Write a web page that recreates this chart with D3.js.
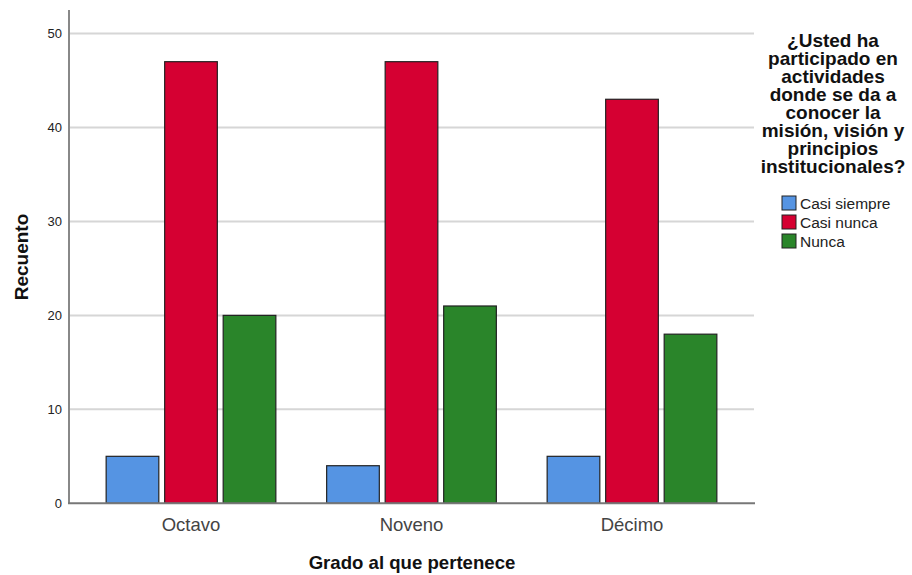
<!DOCTYPE html>
<html><head><meta charset="utf-8">
<script src="https://cdn.jsdelivr.net/npm/d3@7"></script>
<style>body{margin:0;background:#fff}svg{display:block}</style>
</head><body>
<svg id="c" width="912" height="575"></svg>
<script>
const categories = ["Octavo", "Noveno", "Décimo"];
const seriesNames = ["Casi siempre", "Casi nunca", "Nunca"];
const casiSiempre = [5, 4, 5];
const casiNunca = [47, 47, 43];
const nunca = [20, 21, 18];
const yTicks = [0, 10, 20, 30, 40, 50];
const colors = ["#5594E3", "#D50032", "#2A852A"];
const legendTitle = ["¿Usted ha", "participado en", "actividades", "donde se da a", "conocer la", "misión, visión y", "principios", "institucionales?"];

const series = [casiSiempre, casiNunca, nunca];
const svg = d3.select("#c");
const font = "'Liberation Sans', Arial, sans-serif";

const y = d3.scaleLinear().domain([0, 50]).range([503.3, 33.5]);
const x = d3.scaleBand().domain(categories).range([80.75, 742.25]).padding(0);
const inner = d3.scaleBand().domain(seriesNames).range([25.4, 195.1]).paddingInner(0.1);

// gridlines
svg.append("g").selectAll("line").data(yTicks.filter(d => d > 0)).join("line")
  .attr("x1", 70).attr("x2", 754).attr("y1", d => y(d)).attr("y2", d => y(d))
  .attr("stroke", "#d6d6d6").attr("stroke-width", 2);

// y axis
const yAxis = d3.axisLeft(y).tickValues(yTicks).tickSize(0).tickPadding(7);
const gy = svg.append("g").attr("transform", "translate(69,0)").call(yAxis);
gy.select(".domain").remove();
gy.selectAll(".tick text").attr("font-family", font).attr("font-size", 13).attr("fill", "#222");
svg.append("line").attr("x1", 69).attr("x2", 69).attr("y1", 10).attr("y2", 504)
  .attr("stroke", "#888").attr("stroke-width", 2);

// bars
const groups = svg.append("g").selectAll("g").data(categories).join("g")
  .attr("transform", d => `translate(${x(d)},0)`);
groups.selectAll("rect").data((c, i) => seriesNames.map((s, j) => ({s, j, v: series[j][i]}))).join("rect")
  .attr("x", d => inner(d.s)).attr("width", inner.bandwidth())
  .attr("y", d => y(d.v)).attr("height", d => y(0) - y(d.v))
  .attr("fill", d => colors[d.j]).attr("stroke", "#222").attr("stroke-width", 1.2);

// x axis
const xAxis = d3.axisBottom(x).tickSize(0).tickPadding(14.5);
const gx = svg.append("g").attr("transform", "translate(0,503.3)").call(xAxis);
gx.select(".domain").remove();
gx.selectAll(".tick text").attr("font-family", font).attr("font-size", 18.5).attr("fill", "#444");
svg.append("line").attr("x1", 68).attr("x2", 755).attr("y1", 503.3).attr("y2", 503.3)
  .attr("stroke", "#777").attr("stroke-width", 2);

// axis titles
svg.append("text").attr("x", 412).attr("y", 569).attr("text-anchor", "middle")
  .attr("font-family", font).attr("font-weight", "bold").attr("font-size", 18.6).attr("fill", "#111")
  .text("Grado al que pertenece");
svg.append("text").attr("transform", "translate(28,257) rotate(-90)").attr("text-anchor", "middle")
  .attr("font-family", font).attr("font-weight", "bold").attr("font-size", 19).attr("fill", "#111")
  .text("Recuento");

// legend
const lt = svg.append("text").attr("text-anchor", "middle").attr("font-family", font)
  .attr("font-weight", "bold").attr("font-size", 19).attr("fill", "#111");
legendTitle.forEach((t, i) => lt.append("tspan").attr("x", 833).attr("y", 47 + i * 18).text(t));
const lg = svg.append("g").selectAll("g").data(seriesNames).join("g")
  .attr("transform", (d, i) => `translate(782,${196 + i * 19})`);
lg.append("rect").attr("width", 14).attr("height", 14).attr("fill", (d, i) => colors[i])
  .attr("stroke", "#222").attr("stroke-width", 1);
lg.append("text").attr("x", 18).attr("y", 12.5).attr("font-family", font).attr("font-size", 15.5)
  .attr("fill", "#222").text(d => d);
</script>
</body></html>
